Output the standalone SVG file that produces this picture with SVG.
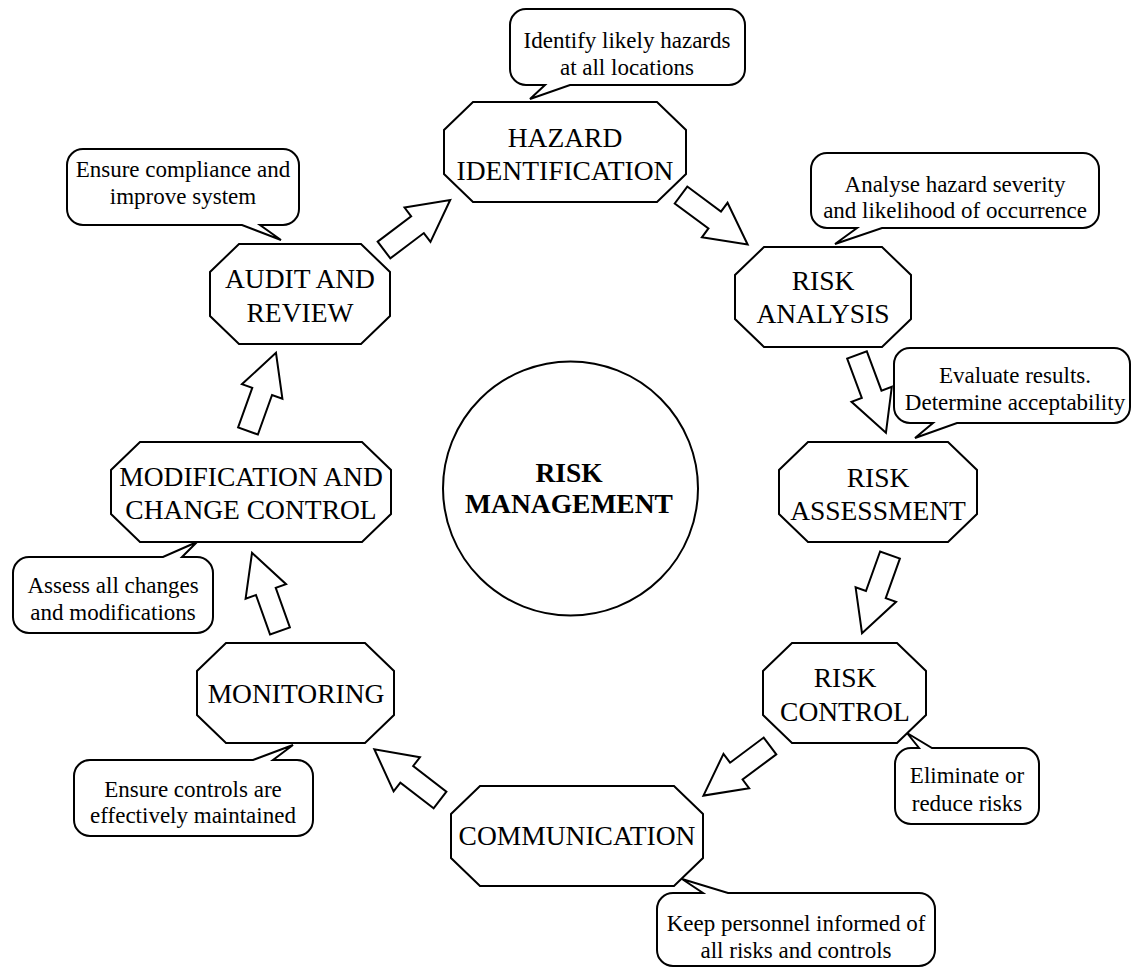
<svg xmlns="http://www.w3.org/2000/svg" xmlns:xlink="http://www.w3.org/1999/xlink" width="1133" height="967" viewBox="0 0 1133 967">
<style>
.shape{fill:#fff;stroke:#000;stroke-width:2;stroke-linejoin:miter}
.node{font-family:"Liberation Serif","Times New Roman",serif;font-size:27.5px;fill:#000;text-anchor:middle}
.call{font-family:"Liberation Serif","Times New Roman",serif;font-size:23px;fill:#000;text-anchor:middle}
.bold{font-weight:bold}
</style>
<defs>
<polygon id="arr" points="0,-10.5 42,-10.5 42,-21.5 83,0 42,21.5 42,10.5 0,10.5"/>
</defs>
<rect width="1133" height="967" fill="#fff"/>

<g id="connectors">
<use xlink:href="#arr" href="#arr" class="shape" transform="translate(384,250) rotate(-37.1)"/>
<use xlink:href="#arr" href="#arr" class="shape" transform="translate(681,195) rotate(36.6)"/>
<use xlink:href="#arr" href="#arr" class="shape" transform="translate(857,355) rotate(69.6)"/>
<use xlink:href="#arr" href="#arr" class="shape" transform="translate(890,555) rotate(109.7)"/>
<use xlink:href="#arr" href="#arr" class="shape" transform="translate(770,746) rotate(143.3)"/>
<use xlink:href="#arr" href="#arr" class="shape" transform="translate(440,800) rotate(217.7)"/>
<use xlink:href="#arr" href="#arr" class="shape" transform="translate(280,631) rotate(250.3)"/>
<use xlink:href="#arr" href="#arr" class="shape" transform="translate(248,431) rotate(289.7)"/>
</g>

<g id="center">
<ellipse class="shape" cx="570.5" cy="488.5" rx="127.5" ry="127"/>
<text class="node bold" x="569" y="482">RISK</text>
<text class="node bold" x="569" y="513">MANAGEMENT</text>
</g>

<g id="hazard-identification">
<polygon class="shape" points="473,102 657,102 686,130 686,174 657,202 473,202 444,174 444,130"/>
<text class="node" x="565" y="147">HAZARD</text>
<text class="node" x="565" y="180">IDENTIFICATION</text>
</g>
<g id="callout-identify">
<path class="shape" d="M526,9 H729 A16,16 0 0 1 745,25 V69 A16,16 0 0 1 729,85 H570 L530,99 L545,85 H526 A16,16 0 0 1 510,69 V25 A16,16 0 0 1 526,9 Z"/>
<text class="call" x="627" y="48">Identify likely hazards</text>
<text class="call" x="627" y="75">at all locations</text>
</g>

<g id="risk-analysis">
<polygon class="shape" points="764,247 882,247 911,275 911,319 882,347 764,347 735,319 735,275"/>
<text class="node" x="823" y="290">RISK</text>
<text class="node" x="823" y="323">ANALYSIS</text>
</g>
<g id="callout-analyse">
<path class="shape" d="M827,153 H1083 A16,16 0 0 1 1099,169 V212 A16,16 0 0 1 1083,228 H882 L835,244 L857,228 H827 A16,16 0 0 1 811,212 V169 A16,16 0 0 1 827,153 Z"/>
<text class="call" x="955" y="192">Analyse hazard severity</text>
<text class="call" x="955" y="218">and likelihood of occurrence</text>
</g>

<g id="risk-assessment">
<polygon class="shape" points="808,442 948,442 977,470 977,514 948,542 808,542 779,514 779,470"/>
<text class="node" x="878" y="487">RISK</text>
<text class="node" x="878" y="520">ASSESSMENT</text>
</g>
<g id="callout-evaluate">
<path class="shape" d="M910,348 H1114 A16,16 0 0 1 1130,364 V407 A16,16 0 0 1 1114,423 H957 L915,438 L933,423 H910 A16,16 0 0 1 894,407 V364 A16,16 0 0 1 910,348 Z"/>
<text class="call" x="1015" y="383">Evaluate results.</text>
<text class="call" x="1015" y="410">Determine acceptability</text>
</g>

<g id="risk-control">
<polygon class="shape" points="792,643 897,643 926,671 926,715 897,743 792,743 763,715 763,671"/>
<text class="node" x="845" y="687">RISK</text>
<text class="node" x="845" y="721">CONTROL</text>
</g>
<g id="callout-eliminate">
<path class="shape" d="M911,748 H919 L907,733 L932,748 H1023 A16,16 0 0 1 1039,764 V808 A16,16 0 0 1 1023,824 H911 A16,16 0 0 1 895,808 V764 A16,16 0 0 1 911,748 Z"/>
<text class="call" x="967" y="783">Eliminate or</text>
<text class="call" x="967" y="811">reduce risks</text>
</g>

<g id="communication">
<polygon class="shape" points="480,786 674,786 703,814 703,858 674,886 480,886 451,858 451,814"/>
<text class="node" x="577" y="845">COMMUNICATION</text>
</g>
<g id="callout-keep">
<path class="shape" d="M673,893 H703 L682,879 L728,893 H919 A16,16 0 0 1 935,909 V950 A16,16 0 0 1 919,966 H673 A16,16 0 0 1 657,950 V909 A16,16 0 0 1 673,893 Z"/>
<text class="call" x="796" y="931">Keep personnel informed of</text>
<text class="call" x="796" y="958">all risks and controls</text>
</g>

<g id="monitoring">
<polygon class="shape" points="226,643 365,643 394,671 394,715 365,743 226,743 197,715 197,671"/>
<text class="node" x="296" y="703">MONITORING</text>
</g>
<g id="callout-ensure-controls">
<path class="shape" d="M90,760 H253 L293,745 L273,760 H297 A16,16 0 0 1 313,776 V820 A16,16 0 0 1 297,836 H90 A16,16 0 0 1 74,820 V776 A16,16 0 0 1 90,760 Z"/>
<text class="call" x="193" y="797">Ensure controls are</text>
<text class="call" x="193" y="823">effectively maintained</text>
</g>

<g id="modification">
<polygon class="shape" points="140,442 362,442 391,470 391,514 362,542 140,542 111,514 111,470"/>
<text class="node" x="251" y="486">MODIFICATION AND</text>
<text class="node" x="251" y="519">CHANGE CONTROL</text>
</g>
<g id="callout-assess">
<path class="shape" d="M29,557 H163 L197,542 L182,557 H197 A16,16 0 0 1 213,573 V617 A16,16 0 0 1 197,633 H29 A16,16 0 0 1 13,617 V573 A16,16 0 0 1 29,557 Z"/>
<text class="call" x="113" y="593">Assess all changes</text>
<text class="call" x="113" y="620">and modifications</text>
</g>

<g id="audit-review">
<polygon class="shape" points="239,244 361,244 390,272 390,316 361,344 239,344 210,316 210,272"/>
<text class="node" x="300" y="288">AUDIT AND</text>
<text class="node" x="300" y="322">REVIEW</text>
</g>
<g id="callout-compliance">
<path class="shape" d="M83,149 H283 A16,16 0 0 1 299,165 V209 A16,16 0 0 1 283,225 H260 L281,240 L242,225 H83 A16,16 0 0 1 67,209 V165 A16,16 0 0 1 83,149 Z"/>
<text class="call" x="183" y="177">Ensure compliance and</text>
<text class="call" x="183" y="204">improve system</text>
</g>
</svg>
